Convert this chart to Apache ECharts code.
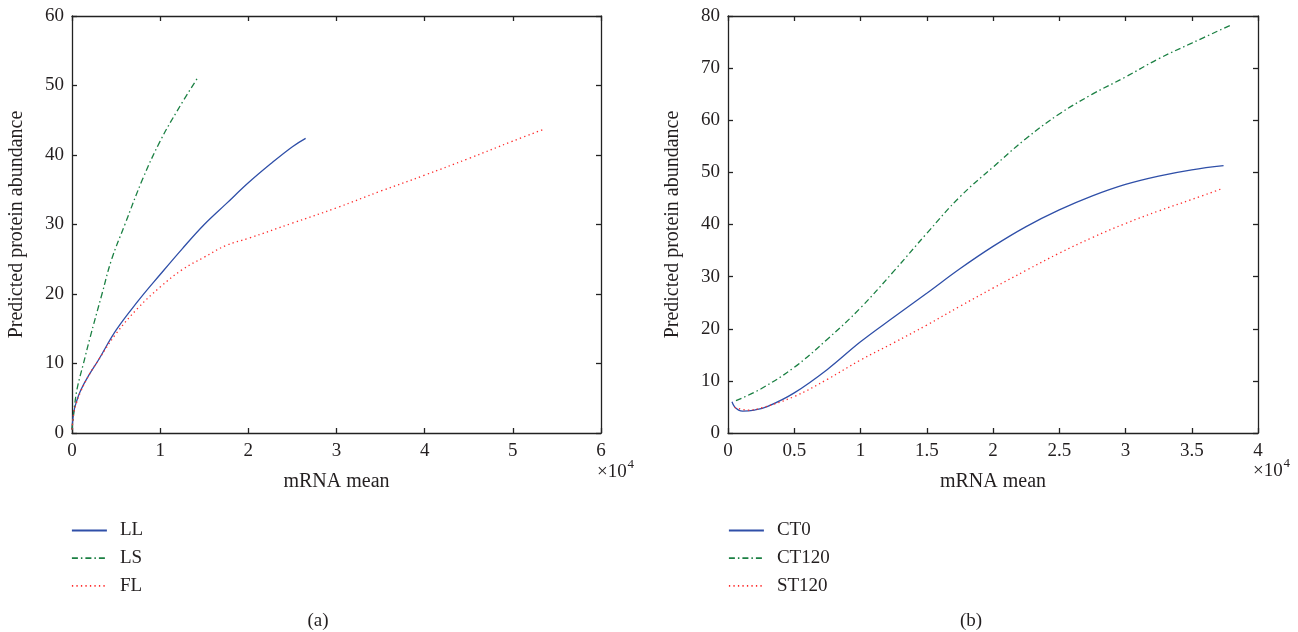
<!DOCTYPE html>
<html>
<head>
<meta charset="utf-8">
<script src="https://cdn.jsdelivr.net/npm/echarts@6/dist/echarts.min.js"></script>
<style>
  html, body { margin: 0; padding: 0; background: #fff; }
  #chart { width: 1298px; height: 632px; }
</style>
</head>
<body>
<div id="chart"></div>
<script>
// panel (a): [mRNA mean, predicted protein abundance]
const seriesLL = [[0, 0.5], [200, 3], [500, 4.5], [1000, 6.2], [2000, 8.5], [3000, 10.5], [5000, 14.8], [7500, 19], [10000, 22.8], [12500, 26.5], [15000, 30], [17500, 33], [20000, 36], [22500, 38.7], [25000, 41.2], [26500, 42.4]]
const seriesLS = [[0, 0.5], [300, 4], [600, 6.5], [1300, 10], [2000, 13.5], [3400, 20], [4500, 25], [6000, 30], [8000, 36.5], [10000, 42], [12000, 46.5], [14200, 51]]
const seriesFL = [[0, 0.5], [200, 2.8], [500, 4.3], [1000, 6], [2000, 8.5], [3000, 10.5], [5000, 14.3], [7500, 18], [10000, 21], [12500, 23.5], [15000, 25.3], [17500, 27], [20000, 28], [25000, 30.2], [30000, 32.4], [35000, 34.8], [40000, 37.1], [45000, 39.5], [50000, 42], [53500, 43.7]]

// panel (b)
const seriesCT0 = [[300, 6], [500, 5], [800, 4.4], [1100, 4.2], [2000, 4.4], [3000, 5.1], [5000, 7.7], [7500, 12.2], [10000, 17.5], [12500, 22.2], [15000, 26.8], [17500, 31.5], [20000, 35.8], [22500, 39.6], [25000, 42.8], [27500, 45.5], [30000, 47.7], [32500, 49.3], [35000, 50.5], [37400, 51.3]]
const seriesCT120 = [[600, 6.2], [2500, 8.5], [5000, 12.6], [7500, 18], [10000, 24], [12500, 31], [15000, 38.3], [17500, 45.3], [20000, 51], [22500, 56.5], [25000, 61.2], [27500, 65], [30000, 68.3], [32500, 71.8], [35000, 74.8], [37900, 78.2]]
const seriesST120 = [[500, 4.9], [1500, 4.4], [2500, 4.8], [5000, 7], [7500, 10.3], [10000, 14], [12500, 17.3], [15000, 20.7], [17500, 24.3], [20000, 27.8], [22500, 31.2], [25000, 34.5], [27500, 37.5], [30000, 40.2], [32500, 42.6], [35000, 44.8], [37200, 46.8]]

const namesA = ['LL', 'LS', 'FL']
const namesB = ['CT0', 'CT120', 'ST120']

const font = 'Liberation Serif'
const textColor = '#231f20'
const axisColor = '#222'
const blue = '#2f4fa8'
const green = '#1b8043'
const red = '#ff2a2a'

const lineStyles = [
  { color: blue, width: 1.3, type: 'solid' },
  { color: green, width: 1.3, type: [6, 3, 1.5, 3] },
  { color: red, width: 1.3, type: [1.3, 3.2] }
]

function xAxisOf (gridIndex, max, interval, top) {
  return {
    type: 'value',
    gridIndex,
    min: 0,
    max,
    interval,
    position: top ? 'top' : 'bottom',
    name: top ? '' : 'mRNA mean',
    nameLocation: 'middle',
    nameGap: 39,
    nameTextStyle: { fontFamily: font, fontSize: 20, color: textColor },
    axisLine: { show: true, onZero: false, lineStyle: { color: axisColor, width: 1.3 } },
    axisTick: { show: true, inside: true, length: 5, lineStyle: { color: axisColor, width: 1.3 } },
    axisLabel: {
      show: !top,
      margin: 9,
      fontFamily: font,
      fontSize: 19,
      color: textColor,
      formatter: v => String(+(v / 10000).toFixed(1))
    },
    splitLine: { show: false }
  }
}

function yAxisOf (gridIndex, max, right) {
  return {
    type: 'value',
    gridIndex,
    min: 0,
    max,
    interval: 10,
    position: right ? 'right' : 'left',
    name: right ? '' : 'Predicted protein abundance',
    nameLocation: 'middle',
    nameGap: 45,
    nameTextStyle: { fontFamily: font, fontSize: 20, color: textColor },
    axisLine: { show: true, onZero: false, lineStyle: { color: axisColor, width: 1.3 } },
    axisTick: { show: true, inside: true, length: 5, lineStyle: { color: axisColor, width: 1.3 } },
    axisLabel: { show: !right, margin: 8, fontFamily: font, fontSize: 19, color: textColor },
    splitLine: { show: false }
  }
}

function lineSeries (name, data, idx, axisIndex) {
  return {
    name,
    type: 'line',
    xAxisIndex: axisIndex,
    yAxisIndex: axisIndex,
    data,
    symbol: 'none',
    smooth: 0.4,
    lineStyle: lineStyles[idx],
    itemStyle: { color: lineStyles[idx].color },
    animation: false
  }
}

function legendOf (names, left) {
  return {
    data: names,
    orient: 'vertical',
    left,
    top: 521,
    padding: 0,
    itemWidth: 35,
    itemHeight: 14,
    itemGap: 8.7,
    itemStyle: { opacity: 0 },
    lineStyle: { width: 1.8 },
    textStyle: { fontFamily: font, fontSize: 19, lineHeight: 18, color: textColor, padding: [0, 0, 0, 8] },
    selectedMode: false
  }
}

function powerText (x, y) {
  return [
    { type: 'text', x, y, style: { text: '×10', font: `19px "${font}"`, fill: textColor, verticalAlign: 'middle' } },
    { type: 'text', x: x + 30.5, y: y - 7, style: { text: '4', font: `13px "${font}"`, fill: textColor, verticalAlign: 'middle' } }
  ]
}

function captionText (text, x) {
  return { type: 'text', x, y: 621, style: { text, font: `19px "${font}"`, fill: textColor, align: 'center', verticalAlign: 'middle' } }
}

const chart = echarts.init(document.getElementById('chart'), null, { renderer: 'canvas' })

chart.setOption({
  backgroundColor: '#fff',
  animation: false,
  grid: [
    { left: 72, top: 16, width: 529, height: 417 },
    { left: 728, top: 16, width: 530, height: 417 }
  ],
  xAxis: [
    xAxisOf(0, 60000, 10000, false),
    xAxisOf(1, 40000, 5000, false),
    xAxisOf(0, 60000, 10000, true),
    xAxisOf(1, 40000, 5000, true)
  ],
  yAxis: [
    yAxisOf(0, 60, false),
    yAxisOf(1, 80, false),
    yAxisOf(0, 60, true),
    yAxisOf(1, 80, true)
  ],
  legend: [legendOf(namesA, 71), legendOf(namesB, 728)],
  series: [
    lineSeries(namesA[0], seriesLL, 0, 0),
    lineSeries(namesA[1], seriesLS, 1, 0),
    lineSeries(namesA[2], seriesFL, 2, 0),
    lineSeries(namesB[0], seriesCT0, 0, 1),
    lineSeries(namesB[1], seriesCT120, 1, 1),
    lineSeries(namesB[2], seriesST120, 2, 1)
  ],
  graphic: [
    ...powerText(597, 472),
    ...powerText(1253, 471),
    captionText('(a)', 318),
    captionText('(b)', 971)
  ]
})
</script>
</body>
</html>
